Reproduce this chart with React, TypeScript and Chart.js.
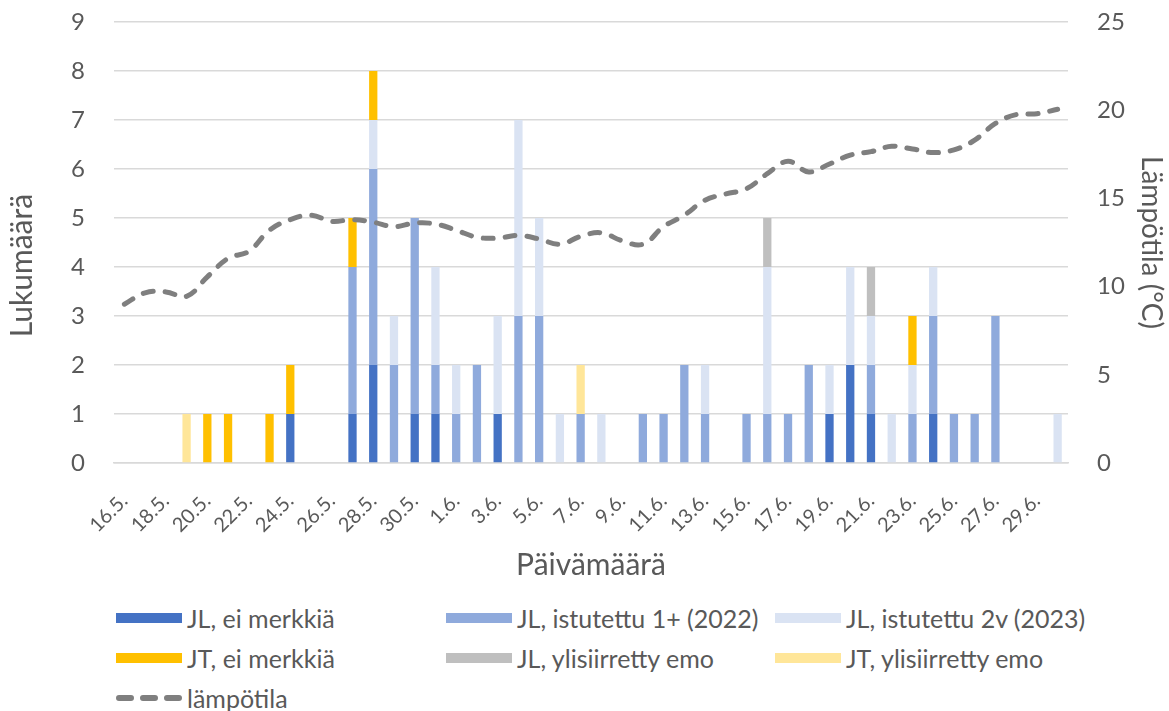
import React, { useEffect, useRef } from "react";
import { Chart, registerables } from "chart.js";

Chart.register(...registerables);

const dates = [
  "16.5.", "17.5.", "18.5.", "19.5.", "20.5.", "21.5.", "22.5.", "23.5.", "24.5.", "25.5.",
  "26.5.", "27.5.", "28.5.", "29.5.", "30.5.", "31.5.",
  "1.6.", "2.6.", "3.6.", "4.6.", "5.6.", "6.6.", "7.6.", "8.6.", "9.6.", "10.6.",
  "11.6.", "12.6.", "13.6.", "14.6.", "15.6.", "16.6.", "17.6.", "18.6.", "19.6.", "20.6.",
  "21.6.", "22.6.", "23.6.", "24.6.", "25.6.", "26.6.", "27.6.", "28.6.", "29.6.", "30.6.",
];

const jlEiMerkkia = [0,0,0,0,0,0,0,0,1,0, 0,1,2,0,1,1, 0,0,1,0,0,0,0,0,0,0, 0,0,0,0,0,0,0,0,1,2, 1,0,0,1,0,0,0,0,0,0];
const jlIstutettu1 = [0,0,0,0,0,0,0,0,0,0, 0,3,4,2,4,1, 1,2,0,3,3,0,1,0,0,1, 1,2,1,0,1,1,1,2,0,0, 1,0,1,2,1,1,3,0,0,0];
const jlIstutettu2v = [0,0,0,0,0,0,0,0,0,0, 0,0,1,1,0,2, 1,0,2,4,2,1,0,1,0,0, 0,0,1,0,0,3,0,0,1,2, 1,1,1,1,0,0,0,0,0,1];
const jtEiMerkkia = [0,0,0,0,1,1,0,1,1,0, 0,1,1,0,0,0, 0,0,0,0,0,0,0,0,0,0, 0,0,0,0,0,0,0,0,0,0, 0,0,1,0,0,0,0,0,0,0];
const jlYlisiirretty = [0,0,0,0,0,0,0,0,0,0, 0,0,0,0,0,0, 0,0,0,0,0,0,0,0,0,0, 0,0,0,0,0,1,0,0,0,0, 1,0,0,0,0,0,0,0,0,0];
const jtYlisiirretty = [0,0,0,1,0,0,0,0,0,0, 0,0,0,0,0,0, 0,0,0,0,0,0,1,0,0,0, 0,0,0,0,0,0,0,0,0,0, 0,0,0,0,0,0,0,0,0,0];

const lampotila = [
  9.0, 9.65, 9.7, 9.45, 10.55, 11.6, 12.0, 13.2, 13.8, 14.05,
  13.7, 13.8, 13.65, 13.4, 13.6, 13.55,
  13.2, 12.8, 12.75, 12.9, 12.7, 12.4, 12.85, 13.05, 12.6, 12.4,
  13.4, 14.05, 14.9, 15.25, 15.55, 16.4, 17.1, 16.5, 16.95, 17.45,
  17.65, 17.95, 17.8, 17.6, 17.75, 18.3, 19.25, 19.75, 19.8, 20.05,
];

const seriesNames = [
  "JL, ei merkkiä",
  "JL, istutettu 1+ (2022)",
  "JL, istutettu 2v (2023)",
  "JT, ei merkkiä",
  "JL, ylisiirretty emo",
  "JT, ylisiirretty emo",
];
const seriesColors = ["#4472C4", "#8FAADC", "#DAE3F3", "#FFC000", "#BFBFBF", "#FFE699"];
const lineName = "lämpötila";

const FONT = "Lato, 'Open Sans', sans-serif";
const TEXT = "#595959";
const GRID = "#d9d9d9";

function nz(a: number[]) {
  return a.map((v) => (v === 0 ? null : v));
}

export default function App() {
  const ref = useRef<HTMLCanvasElement>(null);

  useEffect(() => {
    const seriesData = [jlEiMerkkia, jlIstutettu1, jlIstutettu2v, jtEiMerkkia, jlYlisiirretty, jtYlisiirretty];
    const barSets = seriesData.map((d, i) => ({
      type: "bar" as const,
      label: seriesNames[i],
      data: nz(d),
      backgroundColor: seriesColors[i],
      borderWidth: 0,
      yAxisID: "y",
      stack: "s",
      barPercentage: 0.4,
      categoryPercentage: 1.0,
      order: 1,
    }));
    const chart = new Chart(ref.current as HTMLCanvasElement, {
      type: "bar",
      data: {
        labels: dates,
        datasets: [
          {
            type: "line" as const,
            label: lineName,
            data: lampotila,
            yAxisID: "y1",
            borderColor: "#7F7F7F",
            borderWidth: 5,
            borderDash: [10, 12],
            borderCapStyle: "round",
            pointRadius: 0,
            tension: 0.4,
            fill: false,
            order: 0,
          } as any,
          ...barSets,
        ],
      },
      options: {
        animation: false,
        responsive: false,
        layout: { padding: { top: 22, left: 0, right: 0, bottom: 0 } },
        plugins: { legend: { display: false }, tooltip: { enabled: false } },
        scales: {
          x: {
            stacked: true,
            grid: { display: false, drawTicks: false },
            border: { color: GRID, width: 1.5 },
            ticks: {
              autoSkip: false,
              maxRotation: 45,
              minRotation: 45,
              padding: 26,
              color: TEXT,
              font: { family: FONT, size: 20 },
              callback: (_v: any, i: number) => (i % 2 === 0 ? dates[i] : ""),
            },
            title: {
              display: true,
              text: "Päivämäärä",
              color: TEXT,
              font: { family: FONT, size: 30 },
              padding: { top: 0, bottom: 7 },
            },
            afterFit: (s: any) => {
              s.height = 127;
            },
          },
          y: {
            stacked: true,
            position: "left",
            min: 0,
            max: 9,
            ticks: { stepSize: 1, padding: 29, color: TEXT, font: { family: FONT, size: 24 } },
            grid: { color: GRID, lineWidth: 1.5, drawTicks: false },
            border: { display: false },
            title: {
              display: true,
              text: "Lukumäärä\u00A0\u00A0\u00A0\u00A0\u00A0\u00A0",
              color: TEXT,
              font: { family: FONT, size: 30 },
              padding: { top: 4, bottom: 0 },
            },
            afterFit: (s: any) => {
              s.width = 114;
              s.paddingTop = 0;
              s.paddingBottom = 0;
            },
          },
          y1: {
            position: "right",
            min: 0,
            max: 25,
            ticks: { stepSize: 5, padding: 29, color: TEXT, font: { family: FONT, size: 24 } },
            grid: { display: false, drawTicks: false },
            border: { display: false },
            title: {
              display: true,
              text: "Lämpötila (°C)",
              color: TEXT,
              font: { family: FONT, size: 28 },
              padding: { top: 1, bottom: 0 },
            },
            afterFit: (s: any) => {
              s.width = 101;
              s.paddingTop = 0;
              s.paddingBottom = 0;
            },
          },
        },
      } as any,
    });
    return () => chart.destroy();
  }, []);

  const cols = [116, 446, 775];
  const rows = [618, 658, 698];
  const items = seriesNames.map((n, i) => ({ name: n, color: seriesColors[i], col: i % 3, row: Math.floor(i / 3) }));

  const textStyle = (left: number, top: number) => ({
    position: "absolute" as const,
    left,
    top,
    height: 32,
    lineHeight: "32px",
    fontFamily: FONT,
    fontSize: 25,
    color: TEXT,
    whiteSpace: "nowrap" as const,
  });

  return (
    <div style={{ position: "fixed", left: 0, top: 0, width: 1169, height: 711, background: "#fff", overflow: "hidden" }}>
      <canvas ref={ref} width={1169} height={590} style={{ position: "absolute", left: 0, top: 0, width: 1169, height: 590 }} />
      {items.map((it) => (
        <div key={it.name}>
          <div
            style={{
              position: "absolute",
              left: cols[it.col],
              top: rows[it.row] - 5,
              width: 66,
              height: 10,
              background: it.color,
            }}
          />
          <div style={textStyle(cols[it.col] + 71, rows[it.row] - 16)}>{it.name}</div>
        </div>
      ))}
      <svg style={{ position: "absolute", left: cols[0], top: rows[2] - 6 }} width={66} height={12}>
        <line x1={3} y1={6} x2={63} y2={6} stroke="#7F7F7F" strokeWidth={6} strokeLinecap="round" strokeDasharray="12 12" />
      </svg>
      <div style={textStyle(cols[0] + 71, rows[2] - 16)}>{lineName}</div>
    </div>
  );
}
